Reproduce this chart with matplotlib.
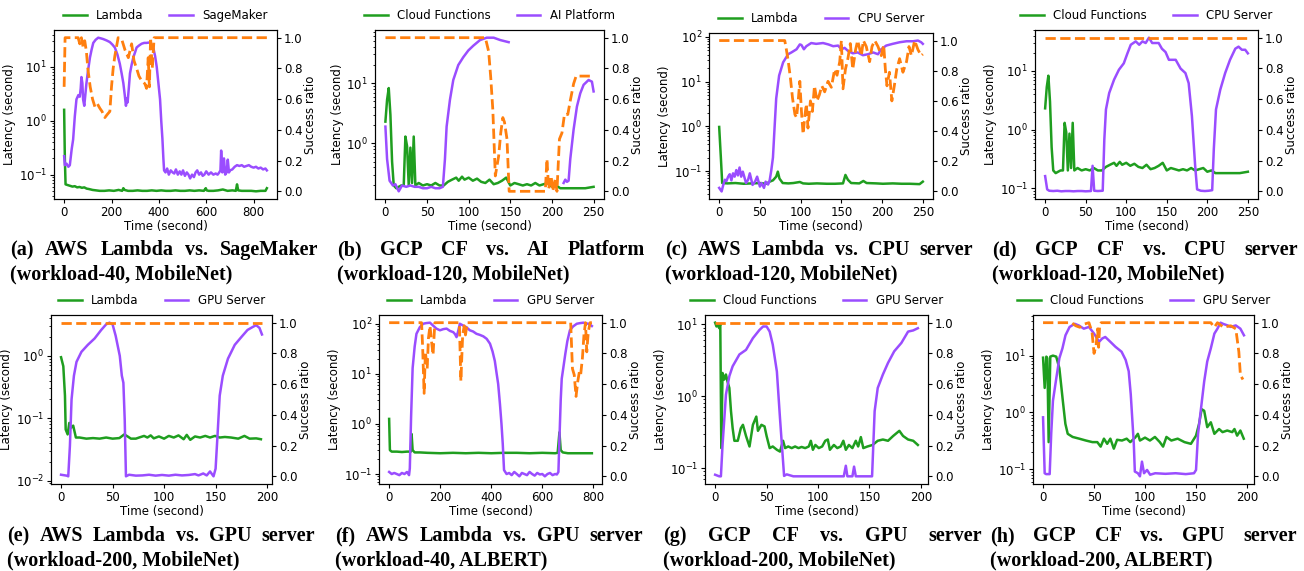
import numpy as np
import matplotlib.pyplot as plt

plt.rcParams['font.family'] = ['DejaVu Sans']
plt.rcParams['font.size'] = 8.5

GREEN = '#1f9e1f'
PURPLE = '#9a4dff'
ORANGE = '#ff7f0e'
nan = np.nan

# ---------------- (a) AWS Lambda vs. SageMaker ----------------
a_lam_t = [0, 3, 6, 15, 25, 35, 45, 55, 65, 75,
           85, 95, 105, 120, 135, 150, 170, 190, 210, 230,
           245, 250, 255, 270, 290, 310, 330, 350, 370, 390,
           410, 430, 450, 470, 490, 510, 530, 550, 570, 590,
           598, 602, 610, 630, 650, 670, 690, 710, 725, 730,
           735, 750, 770, 790, 810, 830, 850, 856]
a_lam = [1.6, 0.2, 0.066, 0.064, 0.062, 0.06, 0.061, 0.058, 0.059, 0.057,
         0.058, 0.055, 0.054, 0.052, 0.051, 0.05, 0.05, 0.051, 0.05, 0.052,
         0.05, 0.056, 0.052, 0.05, 0.05, 0.051, 0.05, 0.05, 0.051, 0.05,
         0.051, 0.05, 0.05, 0.051, 0.05, 0.05, 0.051, 0.05, 0.051, 0.05,
         0.056, 0.051, 0.05, 0.05, 0.051, 0.053, 0.05, 0.051, 0.05, 0.066,
         0.051, 0.05, 0.05, 0.05, 0.049, 0.05, 0.05, 0.056]
a_sm_t = [0, 3, 10, 18, 24, 32, 38, 45, 52, 60,
          66, 70, 73, 77, 80, 85, 90, 94, 100, 109,
          116, 123, 133, 144, 155, 165, 180, 193, 204, 214,
          225, 235, 243, 250, 256, 261, 265, 268, 273, 278,
          285, 292, 300, 306, 316, 327, 338, 348, 360, 370,
          377, 384, 391, 398, 405, 410, 415, 419, 422, 428,
          435, 442, 450, 458, 465, 472, 480, 488, 495, 502,
          510, 518, 525, 532, 540, 548, 555, 562, 570, 578,
          585, 592, 600, 610, 620, 630, 640, 648, 655, 660,
          663, 668, 675, 680, 686, 691, 696, 700, 710, 720,
          730, 740, 750, 760, 770, 780, 790, 800, 810, 820,
          830, 840, 850, 856]
a_sm = [0.22, 0.15, 0.16, 0.14, 0.15, 0.3, 0.45, 1.2, 2.5, 3.0,
        2.8, 4.0, 6.5, 5.0, 2.5, 1.9, 3.2, 4.9, 8, 15,
        21, 28, 32, 35, 34, 33, 31, 29, 26, 23,
        17, 11.5, 7.5, 5, 3, 1.9, 2.6, 2.2, 4.0, 7.6,
        11, 15, 19, 23, 25, 27, 28, 28, 28.5, 25,
        22, 16, 10, 5, 2.5, 1.0, 0.46, 0.2, 0.12, 0.11,
        0.13, 0.1, 0.12, 0.11, 0.105, 0.125, 0.1, 0.115, 0.1, 0.12,
        0.095, 0.11, 0.1, 0.085, 0.1, 0.09, 0.11, 0.12, 0.1, 0.11,
        0.095, 0.1, 0.115, 0.1, 0.11, 0.1, 0.105, 0.1, 0.11, 0.12,
        0.28, 0.11, 0.2, 0.1, 0.11, 0.19, 0.11, 0.12, 0.125, 0.14,
        0.15, 0.145, 0.15, 0.14, 0.145, 0.15, 0.14, 0.135, 0.14, 0.13,
        0.135, 0.125, 0.13, 0.12]
a_ok_t = [0, 4, 59, 66, 73, 80, 87, 94, 100, 110,
          120, 130, 140, 151, 160, 172, 182, 193, 200, 207,
          214, 221, 228, 243, 257, 271, 285, 295, 306, 316,
          327, 341, 348, 355, 360, 365, 372, 380, 856]
a_ok = [0.68, 1.0, 1.0, 0.96, 1.0, 0.94, 0.98, 0.91, 0.8, 0.68,
        0.6, 0.55, 0.57, 0.54, 0.52, 0.48, 0.5, 0.52, 0.68, 0.8,
        0.88, 0.94, 1.0, 0.99, 0.92, 0.87, 0.96, 0.85, 0.8, 0.75,
        0.72, 0.7, 0.67, 0.87, 0.68, 1.0, 0.8, 1.0, 1.0]

# ---------------- (b) GCP CF vs. AI Platform ----------------
b_cf_t = [0, 2, 4, 6, 8, 10, 13, 16, 19, 22,
          24, 26, 28, 30, 32, 34, 36, 40, 45, 50,
          55, 60, 65, 70, 75, 80, 85, 88, 92, 95,
          100, 105, 110, 115, 120, 125, 130, 135, 140, 145,
          150, 155, 160, 165, 170, 175, 180, 185, 190, 195,
          200, 205, 210, 220, 230, 240, 250]
b_cf = [2.3, 5.3, 8.3, 3.0, 0.5, 0.2, 0.18, 0.19, 0.2, 0.2,
        1.3, 0.9, 0.2, 0.85, 0.22, 1.3, 0.2, 0.22, 0.2, 0.21,
        0.2, 0.22, 0.2, 0.2, 0.23, 0.25, 0.27, 0.24, 0.28, 0.25,
        0.27, 0.24, 0.26, 0.23, 0.22, 0.25, 0.21, 0.22, 0.24, 0.27,
        0.2, 0.22, 0.21, 0.2, 0.21, 0.2, 0.22, 0.2, 0.21, 0.22,
        0.19, 0.2, 0.18, 0.18, 0.18, 0.18, 0.19]
b_ai_t = [0, 2, 5, 9, 12, 16, 20, 25, 30, 35,
          40, 45, 50, 55, 60, 65, 69, 71.5, 73.5, 77.5,
          81.5, 87.5, 93.5, 99.6, 105.6, 113.6, 121.7, 130, 138, 148,
          181, 214, 216, 218, 220, 222, 226, 230, 234, 238,
          244, 248, 250]
b_ai = [1.9, 0.55, 0.24, 0.2, 0.21, 0.16, 0.2, 0.19, 0.2, 0.19,
        0.19, 0.18, 0.18, 0.19, 0.18, 0.18, 0.19, 0.55, 1.9, 5.3,
        11.3, 20, 27, 35, 42, 52, 57, 57, 52, 48,
        nan, 0.22, 0.25, 0.23, 0.24, 0.55, 1.7, 4.1, 6.8, 9.4,
        11.3, 10.6, 7.3]
b_ok_t = [0, 120, 124, 126.5, 129, 132, 136, 138.5, 141, 143,
          146, 148.6, 192, 194, 196, 199, 201, 204, 206, 209,
          212, 215, 219, 222, 226, 229, 250]
b_ok = [1.0, 1.0, 0.91, 0.74, 0.53, 0.1, 0.23, 0.38, 0.48, 0.45,
        0.34, 0.0, 0.0, 0.21, 0.015, 0.1, 0.0, 0.08, 0.0, 0.34,
        0.38, 0.5, 0.5, 0.59, 0.7, 0.75, 0.75]

# ---------------- (c) AWS Lambda vs. CPU server ----------------
c_lam_t = [0, 2, 3.7, 10, 20, 30, 40, 50, 58, 62,
           66, 70, 72, 74, 78, 85, 91, 99, 103, 110,
           120, 132, 142, 152, 155, 158, 162, 172, 177, 181,
           193, 201, 213, 224, 234, 246, 250]
c_lam = [0.97, 0.21, 0.054, 0.053, 0.054, 0.052, 0.053, 0.054, 0.052, 0.058,
         0.062, 0.075, 0.097, 0.068, 0.054, 0.053, 0.054, 0.057, 0.053, 0.052,
         0.053, 0.052, 0.052, 0.053, 0.082, 0.064, 0.054, 0.053, 0.06, 0.054,
         0.053, 0.052, 0.053, 0.052, 0.052, 0.051, 0.058]
c_cpu_t = [0, 3, 5, 7, 9, 11, 13, 15, 17, 19,
           21, 23, 25, 27, 29, 33, 35.5, 37.6, 41, 44,
           46.6, 50, 52, 55, 57, 60, 62, 64, 66, 68,
           70, 73.6, 78.5, 84.6, 88.7, 95, 99, 101, 104, 107,
           113, 119, 127.5, 134, 140, 146, 150, 154, 158, 164,
           170, 176.5, 182.7, 189, 195, 199, 205, 213, 221.5, 230,
           238, 244, 248, 250]
c_cpu = [0.042, 0.035, 0.049, 0.064, 0.06, 0.075, 0.085, 0.062, 0.089, 0.075,
         0.105, 0.08, 0.12, 0.075, 0.097, 0.054, 0.064, 0.089, 0.049, 0.058,
         0.075, 0.045, 0.054, 0.042, 0.058, 0.05, 0.062, 0.105, 0.2, 0.94,
         4.2, 13.7, 27, 41, 45, 53, 68, 66, 53, 62,
         73, 70, 73, 68, 62, 64, 53, 57, 49, 43,
         45, 39, 41, 45, 41, 53, 64, 70, 76, 80,
         80, 83, 76, 70]
c_ok_t = [0, 80.5, 82.5, 84.6, 87.5, 90, 93, 95, 97, 99,
          101, 103, 105, 107, 109, 112, 114.4, 117, 120, 123,
          126, 129.5, 133.6, 137.7, 141.8, 144.7, 148, 150, 152, 155,
          158, 161, 164, 167.5, 170, 174.5, 177, 180.6, 184.7, 187.6,
          191, 195, 199, 202, 204, 206, 209, 212, 215, 218,
          221.5, 225.6, 230, 233, 236, 240, 244, 248, 250]
c_ok = [1.0, 1.0, 0.94, 0.87, 0.75, 0.62, 0.51, 0.49, 0.6, 0.73,
        0.53, 0.38, 0.49, 0.58, 0.42, 0.6, 0.53, 0.7, 0.6, 0.64,
        0.7, 0.66, 0.73, 0.69, 0.81, 0.77, 0.86, 1.0, 0.68, 0.81,
        0.88, 0.98, 0.81, 0.94, 1.0, 0.9, 1.0, 0.96, 0.86, 0.96,
        1.0, 0.96, 0.9, 0.97, 0.81, 0.7, 0.79, 0.6, 0.7, 0.81,
        0.88, 0.79, 0.86, 0.96, 0.9, 1.0, 0.94, 0.9, 0.91]

# ---------------- (d) GCP CF vs. CPU server ----------------
d_cf_t = b_cf_t   # same Cloud Functions run as (b)
d_cf = b_cf
d_cpu_t = [0, 2.5, 5, 10, 15, 20, 25, 30, 35, 40,
           45, 50, 56.5, 58.5, 60.5, 65, 71, 73, 75, 79,
           85, 91, 97, 101.5, 105.6, 111.7, 116, 120, 124, 128,
           132, 140, 144, 148.5, 152.6, 161, 167, 173, 177, 181,
           185, 187.4, 192, 197, 201.7, 206, 208, 210.7, 216, 222,
           228, 234.5, 238.5, 242.6, 246.7, 250]
d_cpu = [0.16, 0.095, 0.09, 0.089, 0.09, 0.088, 0.089, 0.089, 0.088, 0.089,
         0.089, 0.088, 0.089, 0.24, 0.09, 0.089, 0.09, 0.68, 2.2, 4.2,
         7.1, 10.5, 13.5, 20, 28, 32, 28, 32, 30, 37,
         30, 30, 24, 21, 15.5, 15.5, 11, 9.2, 6.2, 1.7,
         0.24, 0.095, 0.09, 0.089, 0.09, 0.092, 0.46, 2.2, 4.8, 9.2,
         15.5, 24, 26, 23, 23, 20]
d_ok_t = [0, 250]
d_ok = [1.0, 1.0]

# ---------------- (e) AWS Lambda vs. GPU server, MobileNet ----------------
e_lam_t = [0, 2.2, 3.8, 4.5, 6.4, 8, 9.6, 11.8, 14.4, 18,
           24.6, 31, 37.4, 43.8, 50, 56.6, 61.4, 64.6, 67.8, 72.6,
           75.8, 80.6, 83.8, 87, 90, 95, 100, 104.6, 109.4, 114,
           119, 122, 125.4, 130, 135, 140, 144.6, 149.4, 154, 159,
           165, 172, 178, 183, 189.4, 194]
e_lam = [0.95, 0.68, 0.23, 0.066, 0.055, 0.084, 0.07, 0.076, 0.049, 0.049,
         0.047, 0.048, 0.047, 0.049, 0.047, 0.048, 0.055, 0.051, 0.047, 0.047,
         0.049, 0.052, 0.049, 0.053, 0.0475, 0.051, 0.047, 0.052, 0.049, 0.053,
         0.046, 0.054, 0.045, 0.051, 0.049, 0.052, 0.049, 0.052, 0.049, 0.05,
         0.049, 0.047, 0.052, 0.047, 0.0475, 0.046]
e_gpu_t = [0, 5.4, 7, 8.6, 10.2, 12.5, 15, 19.8, 26, 32.6,
           39, 43.8, 47, 50, 53, 57, 59, 60.5, 61.8, 63,
           66, 72.6, 79, 85.4, 91.8, 98, 104.6, 111, 117.4, 124,
           130, 133.4, 138, 141.4, 144.6, 148, 150, 152, 154, 157,
           162, 168.6, 175, 181, 186, 189.4, 192.6, 195]
e_gpu = [0.0124, 0.012, 0.0117, 0.036, 0.2, 0.48, 0.8, 1.16, 1.5, 1.9,
         2.6, 3.2, 3.4, 3.2, 2.1, 1.0, 0.48, 0.37, 0.094, 0.0117,
         0.0124, 0.012, 0.0121, 0.0124, 0.012, 0.0123, 0.012, 0.0124, 0.0121, 0.0123,
         0.0127, 0.0121, 0.013, 0.0121, 0.014, 0.0117, 0.0155, 0.058, 0.23, 0.48,
         0.9, 1.5, 2.0, 2.6, 2.9, 3.1, 2.8, 2.2]
e_ok_t = [0, 195]
e_ok = [1.0, 1.0]

# ---------------- (f) AWS Lambda vs. GPU server, ALBERT ----------------
f_lam_t = [0, 3, 10, 30, 50, 70, 85, 88, 92, 100,
           120, 150, 200, 250, 300, 350, 400, 450, 500, 550,
           600, 650, 660, 667, 672, 680, 700, 750, 794]
f_lam = [1.26, 0.3, 0.28, 0.28, 0.275, 0.28, 0.28, 0.63, 0.3, 0.27,
         0.27, 0.265, 0.26, 0.265, 0.26, 0.265, 0.26, 0.265, 0.265, 0.26,
         0.265, 0.26, 0.265, 0.68, 0.3, 0.27, 0.26, 0.26, 0.26]
f_gpu_t = [0, 10, 20, 30, 40, 50, 60, 70, 78, 81,
           86, 92, 100, 107, 120, 133, 145, 160, 172, 185,
           199, 212, 225, 238, 251, 258, 264, 270, 277, 290,
           303, 316, 329, 342, 355, 369, 382, 395, 405, 414,
           420, 427, 434, 440, 445, 450, 460, 470, 480, 490,
           500, 510, 520, 530, 540, 550, 560, 570, 580, 590,
           600, 610, 620, 630, 640, 650, 657, 663, 667, 672,
           676, 682, 690, 698, 708, 720, 735, 748, 761, 770,
           780, 788, 794]
f_gpu = [0.11, 0.1, 0.105, 0.1, 0.095, 0.105, 0.1, 0.11, 0.095, 0.13,
         1.4, 13, 35, 63, 85, 100, 103, 105, 92, 80,
         74, 78, 80, 72, 68, 62, 54, 70, 100, 92,
         85, 74, 70, 63, 60, 56, 50, 40, 28, 18,
         11, 6.3, 2.5, 1.0, 0.4, 0.12, 0.1, 0.105, 0.095, 0.11,
         0.1, 0.09, 0.105, 0.1, 0.095, 0.11, 0.1, 0.093, 0.105, 0.098,
         0.1, 0.09, 0.1, 0.105, 0.095, 0.1, 0.098, 0.11, 0.5, 3,
         8, 13, 25, 45, 74, 88, 100, 103, 105, 102,
         100, 95, 90]
f_ok_t = [0, 127, 131, 137, 142, 149, 154, 160, 166, 172,
          179, 275, 281, 288, 294, 299, 306, 711, 718, 725,
          732, 739, 745, 750, 757, 763, 769, 774, 780, 787,
          794]
f_ok = [1.0, 1.0, 0.85, 0.54, 0.81, 0.7, 0.9, 0.98, 0.88, 0.79,
        1.0, 1.0, 0.62, 0.92, 0.98, 0.92, 1.0, 1.0, 0.7, 0.66,
        0.52, 0.62, 0.68, 0.66, 0.77, 0.92, 1.0, 0.81, 0.94, 1.0,
        1.0]

# ---------------- (g) GCP CF vs. GPU server, MobileNet ----------------
g_cf_t = [0, 1.3, 2.6, 4, 5, 6, 7.2, 8.9, 10.5, 12,
          13.8, 15.4, 17, 18.7, 22, 25, 27, 30, 33.4, 36.7,
          40, 41.6, 45, 48, 50, 53, 56, 60, 63, 66,
          68, 71, 74.4, 77.7, 81, 84, 87.5, 91, 93, 95,
          97.4, 100.7, 104, 107, 109.5, 111.5, 115.4, 118.7, 122, 124.6,
          127, 130, 133.4, 136.7, 139, 141.6, 144, 148, 153, 158,
          163, 168, 173, 179, 182.6, 187.5, 192.5, 197]
g_cf = [10.5, 9.3, 9.8, 8.8, 10, 0.19, 2.1, 1.7, 2.0, 1.6,
        1.3, 0.62, 0.36, 0.24, 0.24, 0.36, 0.4, 0.28, 0.2, 0.4,
        0.52, 0.33, 0.4, 0.38, 0.28, 0.19, 0.2, 0.18, 0.17, 0.24,
        0.19, 0.2, 0.19, 0.2, 0.19, 0.197, 0.19, 0.2, 0.24, 0.18,
        0.21, 0.19, 0.2, 0.24, 0.25, 0.18, 0.21, 0.19, 0.2, 0.24,
        0.18, 0.21, 0.19, 0.24, 0.2, 0.27, 0.19, 0.2, 0.21, 0.24,
        0.25, 0.24, 0.28, 0.33, 0.28, 0.25, 0.24, 0.21]
g_gpu_t = [0, 4, 5.6, 7.2, 10.5, 13.8, 17, 23.6, 30, 36.7,
           43, 46.6, 50, 53, 56, 60, 63, 67, 69.5, 76,
           85, 95, 105, 115, 125, 127, 128.5, 133.4, 135, 136.7,
           145, 152.5, 155, 158, 163, 168, 174, 181, 187.5, 192.5,
           197]
g_gpu = [0.081, 0.077, 0.077, 0.21, 1.05, 1.9, 2.6, 3.8, 4.4, 6.4,
         8.3, 9.3, 9.3, 7.9, 5.2, 2.2, 0.5, 0.078, 0.082, 0.077,
         0.077, 0.077, 0.077, 0.077, 0.077, 0.108, 0.077, 0.077, 0.105, 0.077,
         0.077, 0.077, 0.62, 1.3, 2.0, 2.9, 4.2, 5.5, 7.9, 8.2,
         8.8]
g_ok_t = [0, 197]
g_ok = [1.0, 1.0]

# ---------------- (h) GCP CF vs. GPU server, ALBERT ----------------
h_cf_t = [0, 1.6, 3.2, 4.2, 5.5, 7.1, 9.7, 12.9, 16, 19.4,
          21.9, 24.2, 29, 35.5, 42, 48.4, 53.2, 56.5, 59.7, 62.9,
          66, 69.4, 72.6, 77.4, 82, 85.5, 90.3, 93, 95, 100,
          104.8, 109.7, 114.5, 117.7, 121, 125.8, 132, 138.7, 145, 150,
          153, 155.5, 158, 161, 164.5, 168, 172.6, 176, 180.6, 185.5,
          187.7, 190.3, 193.5, 196.8]
h_cf = [9.2, 2.7, 9.6, 9, 0.3, 9.6, 10, 9.6, 6, 1.6,
        0.63, 0.42, 0.37, 0.345, 0.32, 0.3, 0.3, 0.25, 0.345, 0.28,
        0.345, 0.23, 0.33, 0.32, 0.345, 0.3, 0.36, 0.42, 0.32, 0.36,
        0.32, 0.37, 0.3, 0.25, 0.37, 0.32, 0.345, 0.3, 0.28, 0.39,
        0.63, 1.14, 1.07, 0.55, 0.67, 0.42, 0.51, 0.45, 0.48, 0.45,
        0.51, 0.39, 0.48, 0.345]
h_gpu_t = [0, 1.6, 3, 6.5, 8, 9.7, 13, 16, 19, 22,
           26, 31, 35, 40, 45, 50, 55, 58, 61, 66,
           71, 77, 81, 84, 86, 89, 90, 93, 95, 97,
           99, 102, 105, 110, 120, 130, 140, 148, 150, 152,
           155, 158, 161, 164.5, 168, 171, 174, 177, 181, 184,
           189, 193.5, 197]
h_gpu = [0.82, 0.085, 0.082, 0.082, 0.42, 1.6, 4.0, 9, 13.4, 22.8,
         31.9, 36.3, 34, 29.8, 32, 24.4, 17.5, 20, 21.3, 17.5,
         14.3, 11.7, 8.4, 5.3, 2.08, 0.28, 0.091, 0.085, 0.075, 0.136,
         0.085, 0.097, 0.08, 0.085, 0.083, 0.085, 0.082, 0.085, 0.097, 0.42,
         1.22, 3.5, 7.9, 13.4, 24.4, 29.8, 38, 36, 34, 32,
         34, 29.8, 22.8]
h_ok_t = [0, 28, 32, 36, 40, 45, 48, 50, 52, 53.5,
          54.5, 55.5, 57, 164.5, 168, 171, 177, 184, 189, 192,
          193.5, 196]
h_ok = [1.0, 1.0, 0.98, 0.97, 0.99, 1.0, 0.94, 0.8, 0.85, 0.96,
        0.84, 0.98, 1.0, 1.0, 0.97, 1.0, 0.97, 0.98, 0.96, 0.81,
        0.66, 0.63]

captions = [
    ('(a) AWS Lambda vs. SageMaker', '(workload-40, MobileNet)'),
    ('(b) GCP CF vs. AI Platform', '(workload-120, MobileNet)'),
    ('(c) AWS Lambda vs. CPU server', '(workload-120, MobileNet)'),
    ('(d) GCP CF vs. CPU server', '(workload-120, MobileNet)'),
    ('(e) AWS Lambda vs. GPU server', '(workload-200, MobileNet)'),
    ('(f) AWS Lambda vs. GPU server', '(workload-40, ALBERT)'),
    ('(g) GCP CF vs. GPU server', '(workload-200, MobileNet)'),
    ('(h) GCP CF vs. GPU server', '(workload-200, ALBERT)'),
]

series = [
    (a_lam_t, a_lam, 'Lambda', a_sm_t, a_sm, 'SageMaker', a_ok_t, a_ok),
    (b_cf_t, b_cf, 'Cloud Functions', b_ai_t, b_ai, 'AI Platform', b_ok_t, b_ok),
    (c_lam_t, c_lam, 'Lambda', c_cpu_t, c_cpu, 'CPU Server', c_ok_t, c_ok),
    (d_cf_t, d_cf, 'Cloud Functions', d_cpu_t, d_cpu, 'CPU Server', d_ok_t, d_ok),
    (e_lam_t, e_lam, 'Lambda', e_gpu_t, e_gpu, 'GPU Server', e_ok_t, e_ok),
    (f_lam_t, f_lam, 'Lambda', f_gpu_t, f_gpu, 'GPU Server', f_ok_t, f_ok),
    (g_cf_t, g_cf, 'Cloud Functions', g_gpu_t, g_gpu, 'GPU Server', g_ok_t, g_ok),
    (h_cf_t, h_cf, 'Cloud Functions', h_gpu_t, h_gpu, 'GPU Server', h_ok_t, h_ok),
]

# layout in pixels: axes box (left, top, right, bottom), caption span (left, right, baseline)
W, H = 1304, 571
axes_px = [(54, 30, 277, 199), (375, 30, 604, 199), (709, 33, 933, 199), (1035, 30, 1258, 199),
           (51, 315, 272, 484), (379, 315, 602, 484), (705, 315, 928, 484), (1033, 315, 1254, 484)]
cap_px = [(10, 318, 255), (337, 645, 255), (665, 973, 255), (992, 1298, 255),
          (7, 315, 541), (335, 643, 541), (663, 982, 541), (990, 1297, 541)]

fig = plt.figure(figsize=(W / 100, H / 100), dpi=100)

for (t1, y1, l1, t2, y2, l2, t3, y3), (x0, top, x1, bot) in zip(series, axes_px):
    ax = fig.add_axes([x0 / W, 1 - bot / H, (x1 - x0) / W, (bot - top) / H])
    ax.plot(t1, y1, color=GREEN, lw=1.8, label=l1)
    ax.plot(t2, y2, color=PURPLE, lw=1.8, label=l2)
    ax.set_yscale('log')
    ax.set_xlabel('Time (second)', labelpad=1)
    ax.set_ylabel('Latency (second)', labelpad=2)
    ax.tick_params(which='major', length=3, pad=2)
    ax.tick_params(which='minor', length=1.5)
    ax.legend(loc='lower center', bbox_to_anchor=(0.5, 1.0), ncol=2, frameon=False,
              borderaxespad=0.3, handlelength=2.0, columnspacing=2.2)
    ax2 = ax.twinx()
    ax2.plot(t3, y3, color=ORANGE, lw=2, ls='--')
    ax2.set_ylim(-0.05, 1.05)
    ax2.set_ylabel('Success ratio', labelpad=1)
    ax2.tick_params(length=3, pad=2)

# captions: first line justified across the column, second line flush left
renderer = fig.canvas.get_renderer()
cap_font = dict(family=['Liberation Serif', 'DejaVu Serif'], fontweight='bold', fontsize=14.5)
for (line1, line2), (cx0, cx1, base) in zip(captions, cap_px):
    words = line1.split()
    texts = [fig.text(0, 1 - base / H, w, va='baseline', ha='left', **cap_font) for w in words]
    widths = [t.get_window_extent(renderer).width for t in texts]
    gap = (cx1 - cx0 - sum(widths)) / (len(words) - 1)
    x = cx0
    for t, w in zip(texts, widths):
        t.set_x(x / W)
        x += w + gap
    fig.text(cx0 / W, 1 - (base + 24) / H, line2, va='baseline', ha='left', **cap_font)

fig.savefig('out.png', dpi=100)
